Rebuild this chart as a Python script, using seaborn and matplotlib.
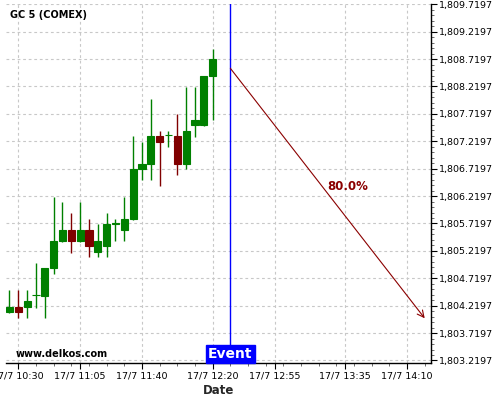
import numpy as np
import pandas as pd
import matplotlib
matplotlib.use("Agg")
import matplotlib.pyplot as plt
import matplotlib.dates as mdates
from matplotlib.ticker import FuncFormatter, FixedLocator
import seaborn as sns

# ---- data ----
times = ["10:25", "10:30", "10:35", "10:40", "10:45", "10:50", "10:55", "11:00",
         "11:05", "11:10", "11:15", "11:20", "11:25", "11:30", "11:35", "11:40",
         "11:45", "11:50", "11:55", "12:00", "12:05", "12:10", "12:15", "12:20"]
opens = [1804.11, 1804.20, 1804.20, 1804.41, 1804.40, 1804.91, 1805.40, 1805.60,
         1805.40, 1805.60, 1805.20, 1805.31, 1805.71, 1805.61, 1805.80, 1806.71,
         1806.81, 1807.32, 1807.33, 1807.32, 1806.81, 1807.52, 1807.52, 1808.41]
highs = [1804.50, 1804.50, 1804.50, 1804.99, 1804.91, 1806.20, 1806.11, 1805.91,
         1806.11, 1805.80, 1805.71, 1805.91, 1805.80, 1806.20, 1807.32, 1807.20,
         1808.00, 1807.41, 1807.41, 1807.71, 1808.21, 1808.21, 1808.41, 1808.90]
lows = [1804.09, 1803.99, 1803.99, 1804.18, 1803.99, 1804.79, 1805.39, 1805.19,
        1805.39, 1805.10, 1805.10, 1805.10, 1805.40, 1805.40, 1805.79, 1806.51,
        1806.51, 1806.40, 1807.11, 1806.60, 1806.71, 1807.30, 1807.50, 1807.61]
closes = [1804.20, 1804.11, 1804.31, 1804.42, 1804.91, 1805.40, 1805.60, 1805.40,
          1805.60, 1805.31, 1805.40, 1805.71, 1805.72, 1805.80, 1806.71, 1806.81,
          1807.32, 1807.21, 1807.34, 1806.81, 1807.41, 1807.61, 1808.41, 1808.72]

ytick_values = [1803.2197 + 0.5 * k for k in range(14)]
xtick_times = ["10:30", "11:05", "11:40", "12:20", "12:55", "13:35", "14:10"]
event_time = "12:30"
arrow_start = ("12:30", 1808.552)
arrow_end = ("14:20", 1803.99)
prob_label = "80.0%"
prob_pos = ("13:24:40", 1806.39)
title = "GC 5 (COMEX)"
watermark = "www.delkos.com"
day = "2020-07-17 "

def t(s):
    return mdates.date2num(pd.Timestamp(day + s))

sns.set_theme(style="white")
plt.rcParams['font.family'] = ['DejaVu Sans']

fig = plt.figure(figsize=(5, 4), dpi=100)
ax = fig.add_axes([0.012, 0.0925, 0.85, 0.8975])

GREEN = "#008000"
RED = "#800000"

x = np.array([t(s) for s in times])
o = np.array(opens); h = np.array(highs); l = np.array(lows); c = np.array(closes)
colors = [GREEN if cc >= oo else RED for oo, cc in zip(o, c)]

ax.vlines(x, l, h, colors=colors, linewidth=1.0, zorder=3)
bw = 4.0 / 1440
ax.bar(x, c - o, bottom=o, width=bw, color=colors, edgecolor=colors,
       linewidth=0.8, zorder=4)

ax.set_xlim(t("10:23:02"), t("14:23:34"))
ax.set_ylim(1803.174, 1809.725)

# event line
ax.axvline(t(event_time), color="blue", linewidth=1.0, zorder=5)
ax.text(t(event_time), 0.006, "Event", transform=ax.get_xaxis_transform(),
        ha="center", va="bottom", color="white", fontsize=10, fontweight="bold",
        bbox=dict(boxstyle="square,pad=0.15", fc="blue", ec="blue"), zorder=6)

# arrow
ax.annotate("", xy=(t(arrow_end[0]), arrow_end[1]),
            xytext=(t(arrow_start[0]), arrow_start[1]),
            arrowprops=dict(arrowstyle="->", color="#8B0000", lw=0.8,
                            shrinkA=0, shrinkB=0, mutation_scale=12), zorder=5)
ax.text(t(prob_pos[0]), prob_pos[1], prob_label, color="#8B0000", fontsize=8.5,
        fontweight="bold", ha="left", va="center")

ax.text(0.01, 0.968, title, transform=ax.transAxes, fontsize=7, fontweight="bold",
        ha="left", va="center", color="black")
ax.text(0.022, 0.024, watermark, transform=ax.transAxes, fontsize=7,
        fontweight="bold", ha="left", va="center", color="black")

# axes styling
for side in ["left", "top"]:
    ax.spines[side].set_visible(False)
for side in ["right", "bottom"]:
    ax.spines[side].set_visible(True)
    ax.spines[side].set_color("black")
    ax.spines[side].set_linewidth(1.0)

ax.yaxis.tick_right()
ax.yaxis.set_major_locator(FixedLocator(ytick_values))
ax.yaxis.set_minor_locator(FixedLocator([1803.2197 + 0.1 * k for k in range(66)]))
ax.yaxis.set_major_formatter(FuncFormatter(lambda v, p: f"{v:,.4f}"))

xt = [t(s) for s in xtick_times]
ax.xaxis.set_major_locator(FixedLocator(xt))
ax.set_xticklabels(["17/7 " + s for s in xtick_times])
minor = [t(f"{hh:02d}:{mm:02d}") for hh in range(10, 15) for mm in range(0, 60, 10)]
ax.xaxis.set_minor_locator(FixedLocator(minor))

ax.tick_params(axis="both", which="major", labelsize=6.8, length=4, width=0.8,
               color="black", labelcolor="black", pad=2)
ax.tick_params(axis="both", which="minor", length=2, width=0.6, color="#555555")
ax.tick_params(axis="x", which="both", bottom=True)
ax.tick_params(axis="y", which="both", right=True, left=False)

ax.grid(True, which="major", color="#c8c8c8", linestyle=(0, (2.5, 2.5)), linewidth=0.8)
ax.set_axisbelow(True)
ax.set_facecolor("white")

ax.set_xlabel("Date", fontsize=8.5, fontweight="bold", labelpad=3)

fig.savefig("out.png", dpi=100)
